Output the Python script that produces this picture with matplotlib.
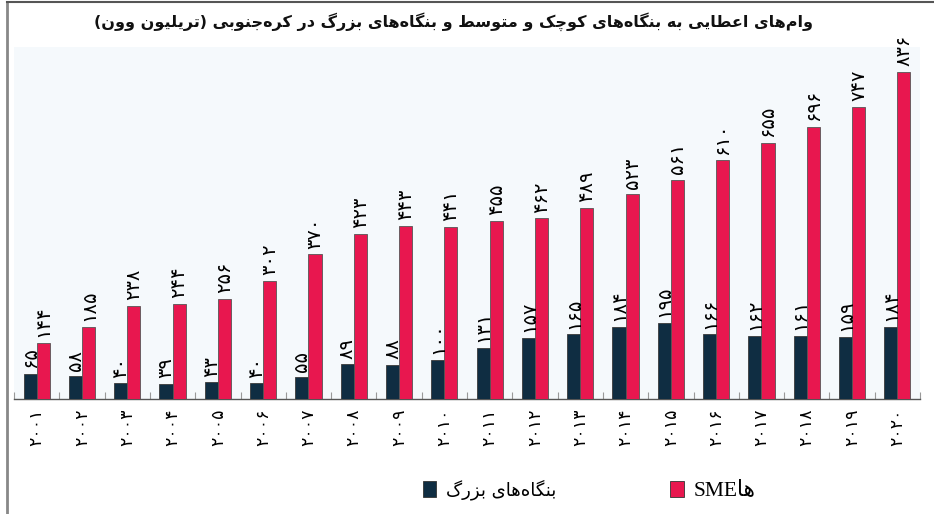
import matplotlib
matplotlib.use("Agg")
import matplotlib.pyplot as plt
import numpy as np
from matplotlib.lines import Line2D
from matplotlib.patches import Patch

# ---------------- data ----------------
years = list(range(2001, 2021))
large_vals = [65, 58, 40, 39, 43, 40, 55, 89, 88, 100, 131, 157, 165, 184, 195, 166, 162, 161, 159, 184]
sme_vals = [144, 185, 238, 244, 256, 302, 370, 423, 443, 441, 455, 462, 489, 523, 561, 610, 655, 696, 747, 836]

title_fa = "وام\u200cهای اعطایی به بنگاه\u200cهای کوچک و متوسط و بنگاه\u200cهای بزرگ در کره\u200cجنوبی (تریلیون وون)"
large_label_fa = "بنگاه\u200cهای بزرگ"
sme_suffix_fa = "ها"

# ---------------- minimal Persian shaping ----------------
FORMS = {
    '\u0627': ('\uFE8D', '\uFE8E', None, None),
    '\u0622': ('\uFE81', '\uFE82', None, None),
    '\u0628': ('\uFE8F', '\uFE90', '\uFE91', '\uFE92'),
    '\u067E': ('\uFB56', '\uFB57', '\uFB58', '\uFB59'),
    '\u062A': ('\uFE95', '\uFE96', '\uFE97', '\uFE98'),
    '\u062B': ('\uFE99', '\uFE9A', '\uFE9B', '\uFE9C'),
    '\u062C': ('\uFE9D', '\uFE9E', '\uFE9F', '\uFEA0'),
    '\u0686': ('\uFB7A', '\uFB7B', '\uFB7C', '\uFB7D'),
    '\u062D': ('\uFEA1', '\uFEA2', '\uFEA3', '\uFEA4'),
    '\u062E': ('\uFEA5', '\uFEA6', '\uFEA7', '\uFEA8'),
    '\u062F': ('\uFEA9', '\uFEAA', None, None),
    '\u0630': ('\uFEAB', '\uFEAC', None, None),
    '\u0631': ('\uFEAD', '\uFEAE', None, None),
    '\u0632': ('\uFEAF', '\uFEB0', None, None),
    '\u0698': ('\uFB8A', '\uFB8B', None, None),
    '\u0633': ('\uFEB1', '\uFEB2', '\uFEB3', '\uFEB4'),
    '\u0634': ('\uFEB5', '\uFEB6', '\uFEB7', '\uFEB8'),
    '\u0635': ('\uFEB9', '\uFEBA', '\uFEBB', '\uFEBC'),
    '\u0636': ('\uFEBD', '\uFEBE', '\uFEBF', '\uFEC0'),
    '\u0637': ('\uFEC1', '\uFEC2', '\uFEC3', '\uFEC4'),
    '\u0638': ('\uFEC5', '\uFEC6', '\uFEC7', '\uFEC8'),
    '\u0639': ('\uFEC9', '\uFECA', '\uFECB', '\uFECC'),
    '\u063A': ('\uFECD', '\uFECE', '\uFECF', '\uFED0'),
    '\u0641': ('\uFED1', '\uFED2', '\uFED3', '\uFED4'),
    '\u0642': ('\uFED5', '\uFED6', '\uFED7', '\uFED8'),
    '\u06A9': ('\uFB8E', '\uFB8F', '\uFB90', '\uFB91'),
    '\u06AF': ('\uFB92', '\uFB93', '\uFB94', '\uFB95'),
    '\u0644': ('\uFEDD', '\uFEDE', '\uFEDF', '\uFEE0'),
    '\u0645': ('\uFEE1', '\uFEE2', '\uFEE3', '\uFEE4'),
    '\u0646': ('\uFEE5', '\uFEE6', '\uFEE7', '\uFEE8'),
    '\u0648': ('\uFEED', '\uFEEE', None, None),
    '\u0647': ('\uFEE9', '\uFEEA', '\uFEEB', '\uFEEC'),
    '\u06CC': ('\uFBFC', '\uFBFD', '\uFBFE', '\uFBFF'),
}
MIRROR = {'(': ')', ')': '('}


def dual(c):
    return c in FORMS and FORMS[c][2] is not None


def shape_fa(text):
    out = []
    n = len(text)
    for i, c in enumerate(text):
        if c == '\u200c':
            continue
        if c not in FORMS:
            out.append(c)
            continue
        prev = text[i - 1] if i > 0 else ''
        nxt = text[i + 1] if i + 1 < n else ''
        cp = dual(prev)
        cn = dual(c) and (nxt in FORMS)
        iso, fin, ini, med = FORMS[c]
        if cp and cn:
            out.append(med)
        elif cp:
            out.append(fin)
        elif cn:
            out.append(ini)
        else:
            out.append(iso)
    return ''.join(MIRROR.get(ch, ch) for ch in reversed(out))


FA_DIGITS = str.maketrans('0123456789', '\u06F0\u06F1\u06F2\u06F3\u06F4\u06F5\u06F6\u06F7\u06F8\u06F9')


def fa_num(v):
    return str(v).translate(FA_DIGITS)


# ---------------- plot ----------------
plt.rcParams['font.family'] = ['DejaVu Sans']
navy = '#0f2d42'
red = '#e8174f'

fig = plt.figure(figsize=(9.34, 5.14), dpi=100)
ax = fig.add_axes([14 / 934, 1 - 399 / 514, 906 / 934, 352 / 514])
ax.set_facecolor('#f5f9fc')

x = np.arange(len(years))
w = 0.29
b1 = ax.bar(x - w / 2, large_vals, w, color=navy, edgecolor='#3a3a3a', linewidth=0.6, zorder=3)
b2 = ax.bar(x + w / 2, sme_vals, w, color=red, edgecolor='#555555', linewidth=0.6, zorder=3)

for bars, vals in ((b1, large_vals), (b2, sme_vals)):
    for rect, v in zip(bars, vals):
        ax.annotate(fa_num(v), (rect.get_x() + rect.get_width() / 2, rect.get_height()),
                    xytext=(0, 4), textcoords='offset points', rotation=90,
                    ha='center', va='bottom', fontsize=14, color='black', zorder=4)

ax.set_xlim(-0.5, len(years) - 0.5)
ax.set_ylim(0, 900)
ax.set_yticks([])
ax.set_xticks(x)
ax.set_xticklabels([fa_num(y) for y in years], rotation=90, fontsize=12.5, va='top')
ax.tick_params(axis='x', which='major', length=0, pad=7)
ax.set_xticks(np.arange(-0.5, len(years), 1), minor=True)
ax.tick_params(axis='x', which='minor', direction='in', length=5, color='#999999', width=0.8)
for s in ('left', 'right', 'top'):
    ax.spines[s].set_visible(False)
ax.spines['bottom'].set_color('#555555')
ax.spines['bottom'].set_linewidth(1.0)

fig.text(454 / 934, 1 - 22 / 514, shape_fa(title_fa), ha='center', va='center',
         fontsize=11.5, fontweight='bold', color='#111111')

handles = [Patch(facecolor=navy, edgecolor='#333333', linewidth=0.6),
           Patch(facecolor=red, edgecolor='#333333', linewidth=0.6)]
labels = [shape_fa(large_label_fa), 'SME' + shape_fa(sme_suffix_fa)]
leg = ax.legend(handles, labels, loc='center', bbox_to_anchor=(589 / 934, 1 - 490 / 514),
                bbox_transform=fig.transFigure, ncol=2, frameon=False, fontsize=13,
                handlelength=0.75, handleheight=1.0, handletextpad=0.55, columnspacing=6.3)
leg.get_texts()[1].set_fontfamily(['Liberation Serif', 'DejaVu Sans'])
leg.get_texts()[1].set_fontsize(15.5)

# outer frame lines (left and top)
fig.add_artist(Line2D([7 / 934, 7 / 934], [0, 1 - 2 / 514], transform=fig.transFigure,
                      color='#888888', linewidth=2))
fig.add_artist(Line2D([7 / 934, 1], [1 - 2 / 514, 1 - 2 / 514], transform=fig.transFigure,
                      color='#555555', linewidth=1.5))

fig.savefig('out.png', dpi=100)
